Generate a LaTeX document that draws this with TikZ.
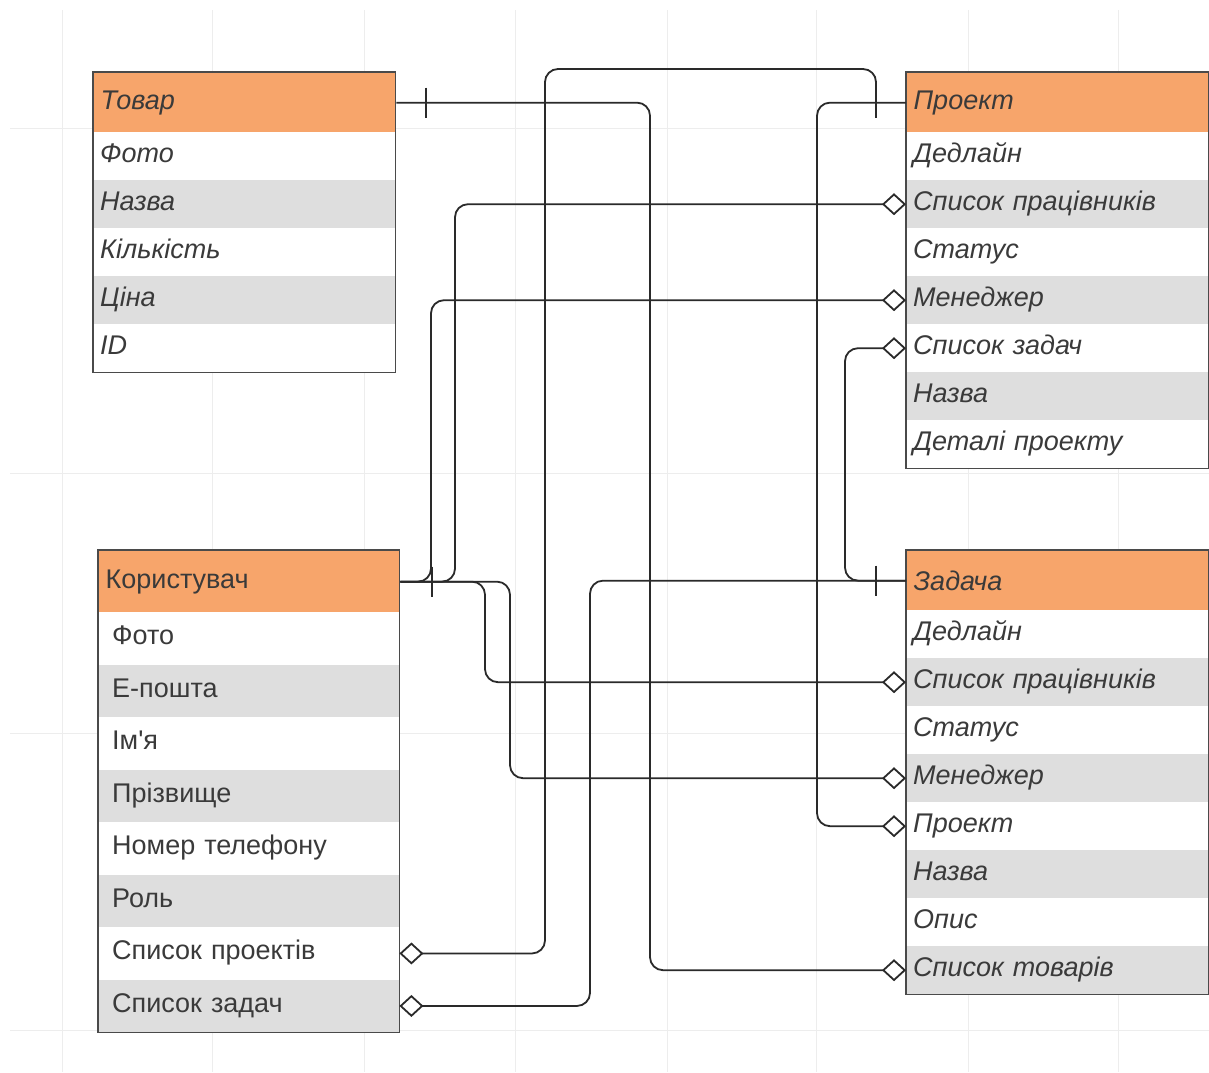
\documentclass[tikz,border=0pt]{standalone}
\usepackage{fontspec}
\setmainfont{Liberation Sans}
\usetikzlibrary{arrows.meta}

\definecolor{hdrorange}{HTML}{F7A56B}
\definecolor{rowgray}{HTML}{DEDEDE}
\definecolor{boxline}{HTML}{4A4A4A}
\definecolor{inkcol}{HTML}{2A2A2A}
\definecolor{txtcol}{HTML}{3A3A3A}
\definecolor{gridcol}{HTML}{EDEDED}

\tikzset{
  hdrcell/.style={rectangle, anchor=north west, draw=boxline, fill=hdrorange,
    line width=1.3pt, inner xsep=7pt, inner ysep=0pt, align=left, text=txtcol},
  rowcell/.style={rectangle, anchor=north west, inner xsep=7pt, inner ysep=0pt,
    align=left, text=txtcol, text height=24pt, text depth=11pt},
  boxframe/.style={draw=boxline, line width=1.3pt},
  ital head/.style={font=\fontsize{27}{32}\selectfont\itshape},
  ital row/.style={font=\fontsize{27}{32}\selectfont\itshape},
  plain head/.style={font=\fontsize{27}{32}\selectfont},
  plain row/.style={font=\fontsize{27}{32}\selectfont, execute at begin node=\hspace*{7pt}},
  link/.style={draw=inkcol, line width=1.8pt, rounded corners=13pt},
  onemark/.style={draw=inkcol, line width=1.8pt},
  aggr/.tip={Diamond[open, length=24pt, width=22pt]},
  gridline/.style={draw=gridcol, line width=1pt}
}

% entity table: name, x, y, width, header height, row height, look, title, rows
\newcommand\erentity[9]{%
  \pgfmathsetmacro\ertw{#4-14}%
  \node[hdrcell, #7 head, text width=\ertw pt, minimum height=#5] (#1-h) at (#2,#3) {#8};
  \foreach \ertext [count=\eri] in {#9} {%
    \ifodd\eri\relax \def\erfill{white}\else \def\erfill{rowgray}\fi
    \node[rowcell, #7 row, fill=\erfill, text width=\ertw pt, minimum height=#6]
      (#1-\eri) at ({#2},{#3+#5+(\eri-1)*#6}) {\ertext};
    \xdef\erlast{\eri}%
  }
  \draw[boxframe] (#1-h.north west) rectangle (#1-\erlast.south east);
}

\begin{document}
\begin{tikzpicture}[x=1pt, y=-1pt]
  \useasboundingbox (0,0) rectangle (1209,1072);
  \fill[white] (0,0) rectangle (1209,1072);

  % faint canvas grid
  \foreach \gx in {62,212,364,515,667,816,968,1118}
    \draw[gridline] (\gx,10) -- (\gx,1072);
  \foreach \gy in {128,473,733,1030}
    \draw[gridline] (10,\gy) -- (1209,\gy);

  % tables
  \erentity{tov}{93}{72}{302}{60}{48}{ital}{Товар}{Фото,Назва,Кількість,Ціна,ID}
  \erentity{pro}{906}{72}{302}{60}{48}{ital}{Проект}{Дедлайн,Список працівників,Статус,Менеджер,Список задач,Назва,Деталі проекту}
  \erentity{zad}{906}{550}{302}{60}{48}{ital}{Задача}{Дедлайн,Список працівників,Статус,Менеджер,Проект,Назва,Опис,Список товарів}
  \erentity{kor}{98}{550}{301}{62}{52.5}{plain}{Користувач}{Фото,Е-пошта,Ім\textquotesingle я,Прізвище,Номер телефону,Роль,Список проектів,Список задач}

  % routing lanes
  \coordinate (laneTov) at (650,0);
  \coordinate (laneProj) at (817,0);
  \coordinate (laneKP) at (545,0);
  \coordinate (topKP) at (0,69);
  \coordinate (laneWrk) at (455,0);
  \coordinate (laneMgr) at (431,0);
  \coordinate (laneZW) at (485,0);
  \coordinate (laneZM) at (510,0);
  \coordinate (laneKZ) at (590,0);
  \coordinate (lanePZ) at (845,0);

  % relations
  \draw[link,-aggr] (tov-h.east) -| (laneTov |- zad-8.west) -- (zad-8.west);
  \draw[link,-aggr] (pro-h.west) -| (laneProj |- zad-5.west) -- (zad-5.west);
  \draw[link,aggr-] (kor-7.east) -| (laneKP |- topKP) -| ([xshift=-30pt]pro-h.west);
  \draw[link,aggr-] (pro-2.west) -| (laneWrk |- kor-h.east) -- (kor-h.east);
  \draw[link,aggr-] (pro-4.west) -| (laneMgr |- kor-h.east) -- (kor-h.east);
  \draw[link,-aggr] (kor-h.east) -| (laneZW |- zad-2.west) -- (zad-2.west);
  \draw[link,-aggr] (kor-h.east) -| (laneZM |- zad-4.west) -- (zad-4.west);
  \draw[link,aggr-] (kor-8.east) -| (laneKZ |- zad-h.west) -- (zad-h.west);
  \draw[link,aggr-] (pro-5.west) -| (lanePZ |- zad-h.west) -- (zad-h.west);

  % "one" ends
  \draw[onemark] ([xshift=30pt]tov-h.east) +(0,-15) -- +(0,15);
  \draw[onemark] ([xshift=-30pt]pro-h.west) +(0,-15) -- +(0,15);
  \draw[onemark] ([xshift=-30pt]zad-h.west) +(0,-15) -- +(0,15);
  \draw[onemark] ([xshift=32pt]kor-h.east) +(0,-15) -- +(0,15);
\end{tikzpicture}
\end{document}
